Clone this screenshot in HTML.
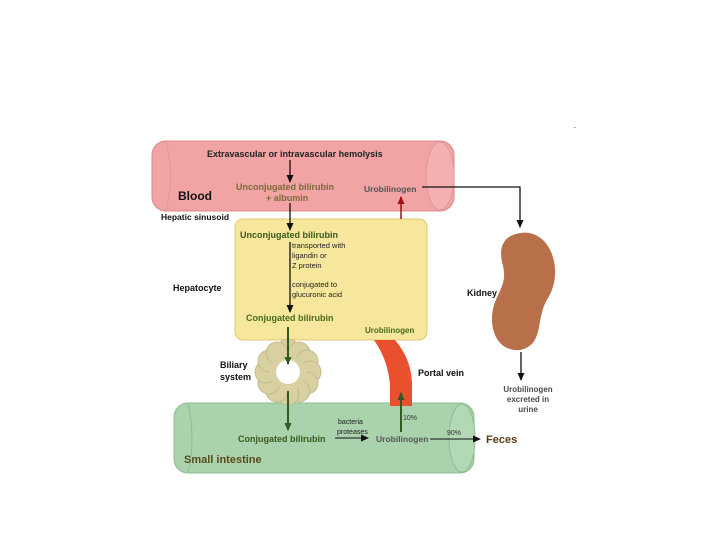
<!DOCTYPE html>
<html><head><style>
body{margin:0;background:#fff;}
svg{display:block;font-family:"Liberation Sans",sans-serif;font-weight:bold;}
</style></head><body>
<svg width="720" height="540" viewBox="0 0 720 540">
<defs>
<marker id="ab" markerUnits="userSpaceOnUse" markerWidth="9" markerHeight="9" refX="7" refY="4.5" orient="auto"><path d="M0,1 L8,4.5 L0,8z" fill="#111"/></marker>
<marker id="ag" markerUnits="userSpaceOnUse" markerWidth="9" markerHeight="9" refX="7" refY="4.5" orient="auto"><path d="M0,1 L8,4.5 L0,8z" fill="#2f5a22"/></marker>
<marker id="ar" markerUnits="userSpaceOnUse" markerWidth="9" markerHeight="9" refX="7" refY="4.5" orient="auto"><path d="M0,1 L8,4.5 L0,8z" fill="#a01010"/></marker>
</defs>
<rect x="152" y="141" width="302" height="70" rx="14" fill="#f2a3a3" stroke="#d88" />
<ellipse cx="440" cy="176" rx="14" ry="34" fill="#f4b0b0" stroke="#d99"/>
<path d="M166,142 Q175,176 166,210" fill="none" stroke="#d99"/>
<text x="207" y="157" font-size="9" fill="#222">Extravascular or intravascular hemolysis</text>
<text x="178" y="200" font-size="12" fill="#111">Blood</text>
<text x="236" y="190" font-size="9" fill="#7a6a3a">Unconjugated bilirubin</text>
<text x="266" y="201" font-size="9" fill="#7a6a3a">+ albumin</text>
<text x="364" y="192" font-size="8.5" fill="#555">Urobilinogen</text>
<line x1="290" y1="160" x2="290" y2="182" stroke="#111" stroke-width="1.3" marker-end="url(#ab)"/>
<polyline points="422,187 520,187 520,227" fill="none" stroke="#111" stroke-width="1.3" marker-end="url(#ab)"/>
<text x="161" y="220" font-size="8.5" fill="#111">Hepatic sinusoid</text>
<rect x="235" y="219" width="192" height="121" rx="8" fill="#f6e79c" stroke="#e0c870"/>
<text x="240" y="238" font-size="9" fill="#3a5a1a">Unconjugated bilirubin</text>
<line x1="290" y1="203" x2="290" y2="230" stroke="#111" stroke-width="1.3" marker-end="url(#ab)"/>
<line x1="290" y1="242" x2="290" y2="312" stroke="#111" stroke-width="1.3" marker-end="url(#ab)"/>
<g font-size="7.5" font-weight="normal" fill="#222">
<text x="292" y="248">transported with</text>
<text x="292" y="258">ligandin or</text>
<text x="292" y="268">Z protein</text>
<text x="292" y="287">conjugated to</text>
<text x="292" y="297">glucuronic acid</text>
</g>
<text x="173" y="291" font-size="9" fill="#111">Hepatocyte</text>
<text x="246" y="321" font-size="9" fill="#4a6a1a">Conjugated bilirubin</text>
<text x="365" y="333" font-size="8" fill="#4a6a1a">Urobilinogen</text>
<line x1="401" y1="219" x2="401" y2="197" stroke="#a01010" stroke-width="1.5" marker-end="url(#ar)"/>
<path d="M520,233 C550,228 565,270 548,298 C535,318 545,345 520,350 C495,352 488,325 494,305 C500,288 508,282 502,262 C498,242 508,235 520,233z" fill="#b8704a"/>
<text x="467" y="296" font-size="9" fill="#111">Kidney</text>
<line x1="521" y1="352" x2="521" y2="380" stroke="#111" stroke-width="1.3" marker-end="url(#ab)"/>
<g font-size="8" fill="#4a4a4a" text-anchor="middle"><text x="528" y="392">Urobilinogen</text><text x="528" y="402">excreted in</text><text x="528" y="412">urine</text></g>
<rect x="174" y="403" width="300" height="70" rx="14" fill="#a9d2ad" stroke="#8cbf90"/>
<ellipse cx="462" cy="438" rx="13" ry="34" fill="#b3d8b6" stroke="#8cbf90"/>
<path d="M188,404 Q196,438 188,472" fill="none" stroke="#8cbf90"/>
<text x="184" y="463" font-size="11" fill="#5a4a1a">Small intestine</text>
<path d="M374,340 L395,340 Q412,360 412,385 L412,406 L390,406 L390,385 Q388,360 374,340z" fill="#e8502e"/>
<text x="418" y="376" font-size="9" fill="#111">Portal vein</text>
<g fill="#d8d0a0" stroke="#bdb585" stroke-width="0.8">
<circle cx="288" cy="350" r="11"/><circle cx="299" cy="353" r="11"/><circle cx="307" cy="361" r="11"/><circle cx="310" cy="372" r="11"/><circle cx="307" cy="383" r="11"/><circle cx="299" cy="391" r="11"/><circle cx="288" cy="394" r="11"/><circle cx="277" cy="391" r="11"/><circle cx="269" cy="383" r="11"/><circle cx="266" cy="372" r="11"/><circle cx="269" cy="361" r="11"/><circle cx="277" cy="353" r="11"/>
</g>
<circle cx="288" cy="372" r="18" fill="#d8d0a0"/>
<circle cx="288" cy="372" r="12" fill="#fff"/>
<text x="220" y="368" font-size="9" fill="#111">Biliary</text>
<text x="220" y="380" font-size="9" fill="#111">system</text>
<line x1="288" y1="327" x2="288" y2="364" stroke="#2f5a22" stroke-width="2" marker-end="url(#ag)"/>
<line x1="288" y1="391" x2="288" y2="430" stroke="#2f5a22" stroke-width="2" marker-end="url(#ag)"/>
<text x="238" y="442" font-size="9" fill="#3a5a1a">Conjugated bilirubin</text>
<line x1="335" y1="438" x2="368" y2="438" stroke="#111" marker-end="url(#ab)"/>
<g font-size="7" font-weight="normal" fill="#222"><text x="338" y="424">bacteria</text><text x="337" y="434">proteases</text></g>
<text x="376" y="442" font-size="8.5" fill="#555">Urobilinogen</text>
<line x1="401" y1="432" x2="401" y2="393" stroke="#2f5a22" stroke-width="2" marker-end="url(#ag)"/>
<text x="403" y="420" font-size="7" font-weight="normal" fill="#333">10%</text>
<line x1="430" y1="439" x2="480" y2="439" stroke="#111" marker-end="url(#ab)"/>
<text x="447" y="435" font-size="7" font-weight="normal" fill="#333">90%</text>
<text x="486" y="443" font-size="11" fill="#5a3a1a">Feces</text>
<text x="574" y="128" font-size="6" fill="#333">.</text>
</svg>
</body></html>
